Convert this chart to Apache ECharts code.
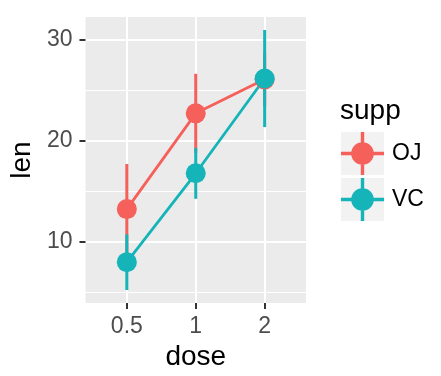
<!DOCTYPE html>
<html>
<head>
<meta charset="utf-8">
<script src="https://cdn.jsdelivr.net/npm/echarts@6/dist/echarts.min.js"></script>
<style>
  html, body { margin: 0; padding: 0; background: #fff; }
  #chart { width: 441px; height: 376px; }
</style>
</head>
<body>
<div id="chart"></div>
<script>
// values (ToothGrowth, mean +/- sd)
const doseLabels = ['0.5', '1', '2']
const ojLen = [13.23, 22.70, 26.06]
const ojSd = [4.46, 3.91, 2.66]
const vcLen = [7.98, 16.77, 26.14]
const vcSd = [2.75, 2.52, 4.80]
const yTicks = [10, 20, 30]
const yMinorTicks = [5, 15, 25]
const suppNames = ['OJ', 'VC']

const colors = { OJ: '#F5605A', VC: '#14B4B8' }
const font = 'Liberation Sans, Arial, sans-serif'
const keyIcon = 'path://M3 20.5 H41 V23.5 H3 Z M20.5 3 H23.5 V41 H20.5 Z M12 22 A10 10 0 1 1 32 22 A10 10 0 1 1 12 22 Z'

const xIdx = doseLabels.map((d, i) => i)
const yMin = 5.23 - 0.05 * (30.94 - 5.23)
const yMax = 30.94 + 0.05 * (30.94 - 5.23)

function errorBars(name, means, sds, z) {
  return {
    name: name,
    type: 'custom',
    z: z,
    data: means.map((m, i) => [i, m - sds[i], m + sds[i]]),
    renderItem(params, api) {
      const p1 = api.coord([api.value(0), api.value(1)])
      const p2 = api.coord([api.value(0), api.value(2)])
      return {
        type: 'line',
        shape: { x1: p1[0], y1: p1[1], x2: p2[0], y2: p2[1] },
        style: { stroke: colors[name], lineWidth: 3 }
      }
    }
  }
}

function meanLine(name, means, z) {
  return {
    name: name,
    type: 'line',
    z: z,
    data: means.map((m, i) => [i, m]),
    symbol: 'none',
    itemStyle: { color: colors[name] },
    lineStyle: { color: colors[name], width: 2.8 }
  }
}

function meanPoints(name, means, z) {
  return {
    name: name,
    type: 'scatter',
    z: z,
    data: means.map((m, i) => [i, m]),
    symbolSize: 20,
    itemStyle: { color: colors[name], opacity: 1 }
  }
}

const chart = echarts.init(document.getElementById('chart'))
chart.setOption({
  animation: false,
  grid: {
    left: 85,
    right: 135,
    top: 17,
    bottom: 72,
    show: true,
    backgroundColor: '#EBEBEB',
    borderWidth: 0
  },
  xAxis: {
    type: 'value',
    min: -0.6,
    max: 2.6,
    name: 'dose',
    nameLocation: 'middle',
    nameGap: 40,
    nameTextStyle: { fontFamily: font, fontSize: 28, color: '#000' },
    axisLine: { show: false, onZero: false },
    axisTick: { show: true, customValues: xIdx, length: 6, lineStyle: { color: '#333', width: 2 } },
    axisLabel: {
      customValues: xIdx,
      margin: 12,
      fontFamily: font,
      fontSize: 23,
      color: '#4D4D4D',
      formatter: v => doseLabels[Math.round(v)]
    },
    splitLine: { show: true, lineStyle: { color: '#fff', width: 2 } }
  },
  yAxis: [
    {
      type: 'value',
      position: 'left',
      min: yMin,
      max: yMax,
      name: 'len',
      nameLocation: 'middle',
      nameGap: 47,
      nameTextStyle: { fontFamily: font, fontSize: 28, color: '#000' },
      axisLine: { show: false, onZero: false },
      axisTick: { show: true, customValues: yTicks, length: 6, lineStyle: { color: '#333', width: 2 } },
      axisLabel: { customValues: yTicks, margin: 13, fontFamily: font, fontSize: 23, color: '#4D4D4D' },
      splitLine: { show: true, lineStyle: { color: '#fff', width: 2 } }
    },
    {
      type: 'value',
      position: 'right',
      min: yMin,
      max: yMax,
      axisLine: { show: false, onZero: false },
      axisTick: { show: false, customValues: yMinorTicks },
      axisLabel: { show: false, customValues: yMinorTicks },
      splitLine: { show: true, lineStyle: { color: '#fff', width: 1.1 } }
    }
  ],
  legend: {
    orient: 'vertical',
    left: 341,
    top: 132,
    padding: 0,
    itemWidth: 43,
    itemHeight: 43,
    itemGap: 3,
    selectedMode: false,
    textStyle: { fontFamily: font, fontSize: 23, color: '#000', padding: [0, 0, 0, 3] },
    data: suppNames.map(n => ({ name: n, icon: keyIcon, itemStyle: { color: colors[n] } }))
  },
  graphic: [
    {
      type: 'text',
      left: 340,
      top: 97,
      style: { text: 'supp', font: '28px ' + font, fill: '#000' }
    },
    {
      type: 'rect',
      left: 341,
      top: 132,
      z: -1,
      shape: { width: 43, height: 43 },
      style: { fill: '#F2F2F2' }
    },
    {
      type: 'rect',
      left: 341,
      top: 178,
      z: -1,
      shape: { width: 43, height: 43 },
      style: { fill: '#F2F2F2' }
    }
  ],
  series: [
    meanPoints('OJ', ojLen, 5),
    meanPoints('VC', vcLen, 6),
    meanLine('OJ', ojLen, 2),
    meanLine('VC', vcLen, 2),
    errorBars('OJ', ojLen, ojSd, 3),
    errorBars('VC', vcLen, vcSd, 4)
  ]
})
</script>
</body>
</html>
